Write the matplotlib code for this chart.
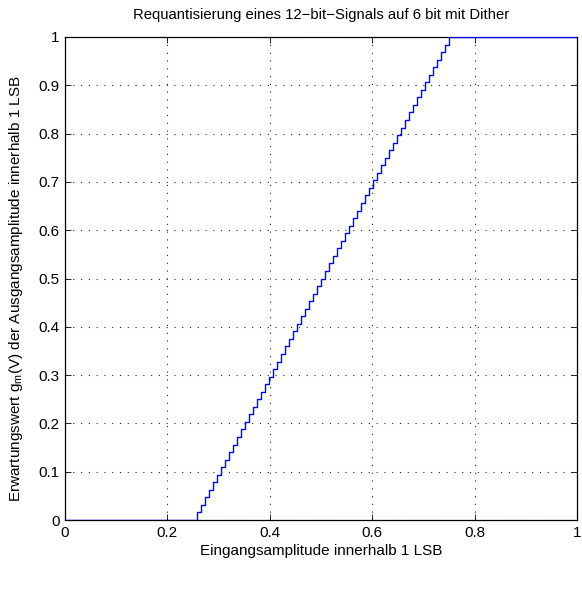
import numpy as np
import matplotlib
matplotlib.use("Agg")
import matplotlib.pyplot as plt

plt.rcParams['font.family'] = ['Liberation Sans', 'DejaVu Sans']
plt.rcParams['mathtext.fontset'] = 'custom'
plt.rcParams['mathtext.rm'] = 'Liberation Sans'
plt.rcParams['mathtext.it'] = 'Liberation Sans'

# input amplitude (in 1/128 LSB units) and expected output (in 1/64 LSB units)
x_units = list(range(0, 129))
y_units = ([0] * 33 +
           [1, 2, 3, 4, 5, 6, 7, 8, 9, 10, 11, 12, 13, 14, 15, 16,
            17, 18, 19, 20, 21, 22, 23, 24, 25, 26, 27, 28, 29, 30, 31, 32,
            33, 34, 35, 36, 37, 38, 39, 40, 41, 42, 43, 44, 45, 46, 47, 48,
            49, 50, 51, 52, 53, 54, 55, 56, 57, 58, 59, 60, 61, 62, 63, 64] +
           [64] * 32)
x_den = 128
y_den = 64

title = "Requantisierung eines 12\u2212bit\u2212Signals auf 6 bit mit Dither"
xlabel = "Eingangsamplitude innerhalb 1 LSB"
ylabel = "Erwartungswert g$_\\mathregular{m}$(V) der Ausgangsamplitude innerhalb 1 LSB"
xticks = [0, 0.2, 0.4, 0.6, 0.8, 1]
xticklabels = ["0", "0.2", "0.4", "0.6", "0.8", "1"]
yticks = [0, 0.1, 0.2, 0.3, 0.4, 0.5, 0.6, 0.7, 0.8, 0.9, 1]
yticklabels = ["0", "0.1", "0.2", "0.3", "0.4", "0.5", "0.6", "0.7", "0.8", "0.9", "1"]

x = np.array(x_units) / x_den
y = np.array(y_units) / y_den

fig = plt.figure(figsize=(5.82, 5.94), dpi=100)
ax = fig.add_axes([65/582, 1 - 520/594, 512/582, 483/594])

ax.step(x, y, where='post', color='#0000ff', lw=1.0, zorder=3)

ax.set_xlim(0, 1)
ax.set_ylim(0, 1)
ax.set_xticks(xticks)
ax.set_xticklabels(xticklabels)
ax.set_yticks(yticks)
ax.set_yticklabels(yticklabels)
ax.tick_params(direction='in', top=True, right=True, labelsize=11, length=4, width=0.6, pad=4)
ax.grid(True, linestyle=(0, (1, 6)), color='#222222', lw=0.8)
for s in ax.spines.values():
    s.set_linewidth(0.9)

ax.set_title(title, fontsize=10.7, pad=13)
ax.set_xlabel(xlabel, fontsize=11, labelpad=3)
ax.set_ylabel(ylabel, fontsize=11, labelpad=2)
ax.yaxis.set_label_coords(-(65 - 25) / 512, 0.48)

fig.savefig("out.png", dpi=100)
